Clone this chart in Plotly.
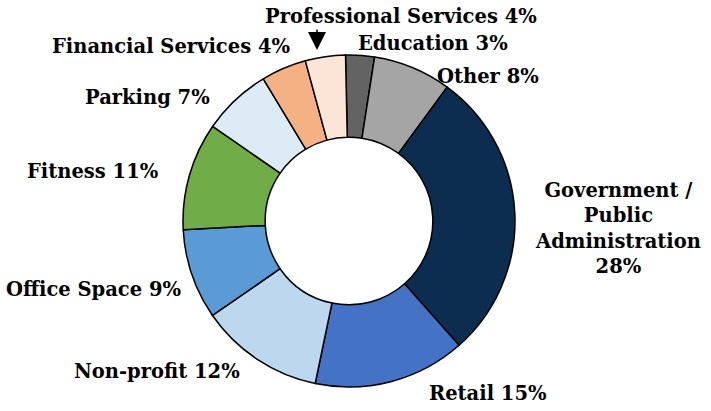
import plotly.graph_objects as go

W, H = 711, 411

categories = ["Education", "Other", "Government / Public Administration", "Retail",
              "Non-profit", "Office Space", "Fitness", "Parking",
              "Financial Services", "Professional Services"]
values = [2.8, 7.6, 28.4, 14.8, 12.1, 8.8, 10.5, 6.7, 4.4, 3.9]
label_text = ["Education 3%", "Other 8%", "Government /<br>Public<br>Administration<br>28%",
              "Retail 15%", "Non-profit 12%", "Office Space 9%", "Fitness 11%",
              "Parking 7%", "Financial Services 4%", "Professional Services 4%"]
colors = ["#636363", "#a5a5a5", "#0c2d4f", "#4472c4", "#bdd7ee", "#5b9bd5",
          "#70ad47", "#ddebf7", "#f4b183", "#fbe5d6"]

# label centre positions in pixels (layout only)
label_pos = [(433, 44), (488, 76), (618, 228), (488, 393), (157, 371),
             (93, 289), (93, 171), (147, 98), (171, 47), (401, 17)]

cx, cy, r = 349, 221, 166

fig = go.Figure(go.Pie(
    labels=categories, values=values, sort=False, direction="clockwise",
    rotation=-1.2, hole=0.505,
    marker=dict(colors=colors, line=dict(color="black", width=1.5)),
    textinfo="none", hoverinfo="label+percent", showlegend=False,
    domain=dict(x=[(cx - r) / W, (cx + r) / W], y=[(H - cy - r) / H, (H - cy + r) / H]),
))

font = dict(family="DejaVu Serif", size=19.5, color="black", weight="bold")
anns = []
for txt, (px, py) in zip(label_text, label_pos):
    anns.append(dict(x=px / W, y=1 - py / H, xref="paper", yref="paper", text=txt,
                     showarrow=False, xanchor="center", yanchor="middle", font=font))
# arrow for Professional Services
anns.append(dict(x=317 / W, y=1 - 50 / H, xref="paper", yref="paper", text="",
                 showarrow=True, ax=0, ay=-22, arrowhead=2, arrowsize=2.4,
                 arrowwidth=1.5, arrowcolor="black"))

fig.update_layout(width=W, height=H, margin=dict(l=0, r=0, t=0, b=0),
                  paper_bgcolor="white", plot_bgcolor="white", annotations=anns)
fig.write_html("out.html", config={"displayModeBar": False},
               post_script="document.body.style.margin='0px';")
